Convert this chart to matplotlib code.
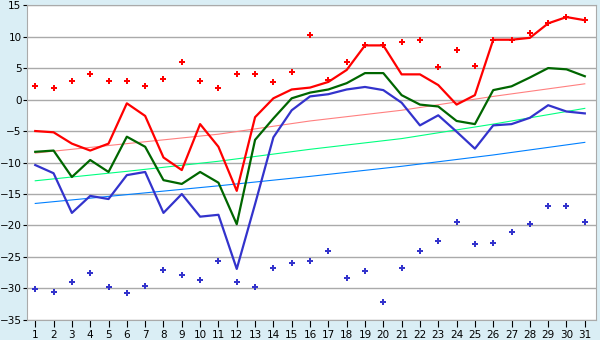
import matplotlib
matplotlib.use("Agg")
import matplotlib.pyplot as plt

days = list(range(1, 32))

t_max = [-5.0, -5.2, -7.0, -8.1, -7.0, -0.6, -2.6, -9.2, -11.2, -3.9, -7.5, -14.5, -2.8, 0.2, 1.6,
         1.9, 2.8, 4.7, 8.6, 8.6, 4.0, 4.0, 2.3, -0.8, 0.7, 9.5, 9.5, 9.8, 12.1, 13.1, 12.6]
t_mean = [-8.3, -8.1, -12.3, -9.6, -11.5, -5.9, -7.5, -12.8, -13.4, -11.5, -13.2, -19.8, -6.4, -3.0, 0.2,
          1.1, 1.6, 2.6, 4.2, 4.2, 0.7, -0.8, -1.1, -3.4, -3.9, 1.5, 2.1, 3.5, 5.0, 4.8, 3.7]
t_min = [-10.4, -11.7, -18.0, -15.3, -15.8, -12.0, -11.5, -18.0, -15.0, -18.6, -18.3, -26.9, -16.6, -6.0, -1.7,
         0.5, 0.85, 1.6, 2.0, 1.5, -0.5, -4.1, -2.5, -5.1, -7.8, -4.1, -3.9, -2.9, -0.9, -1.9, -2.2]

rec_high = [2.1, 1.8, 2.9, 4.0, 2.9, 2.9, 2.1, 3.3, 5.9, 2.9, 1.9, 4.0, 4.0, 2.8, 4.3,
            10.2, 3.1, 5.9, 8.6, 8.6, 9.1, 9.5, 5.2, 7.9, 5.4, 9.5, 9.5, 10.6, 12.1, 13.1, 12.6]
rec_low = [-30.1, -30.6, -29.0, -27.5, -29.8, -30.8, -29.6, -27.0, -27.9, -28.6, -25.7, -29.0, -29.8, -26.7, -26.0,
           -25.7, -24.1, -28.3, -27.3, -32.2, -26.7, -24.1, -22.4, -19.5, -23.0, -22.8, -21.0, -19.8, -16.9, -16.9, -19.5]

# normals, read at a few days
norm_days = [1, 6, 11, 16, 21, 26, 31]
norm_max = [-8.5, -7.0, -5.5, -3.4, -1.7, 0.5, 2.5]
norm_mean = [-12.9, -11.4, -9.8, -7.9, -6.2, -3.9, -1.4]
norm_min = [-16.5, -15.1, -13.7, -12.2, -10.6, -8.8, -6.8]

bg = "#daeef5"
fig = plt.figure(figsize=(6, 3.4), dpi=100, facecolor=bg)
ax = fig.add_axes([0.045, 0.059, 0.948, 0.926])
ax.set_facecolor("white")

ax.plot(norm_days, norm_max, color="#ff8080", lw=0.8, zorder=2)
ax.plot(norm_days, norm_mean, color="#00ff80", lw=0.8, zorder=2)
ax.plot(norm_days, norm_min, color="#0080ff", lw=0.8, zorder=2)

ax.plot(days, t_min, color="#3333cc", lw=1.6, zorder=3)
ax.plot(days, t_mean, color="#006600", lw=1.6, zorder=3)
ax.plot(days, t_max, color="#ff0000", lw=1.6, zorder=4)

ax.plot(days, rec_high, ls="none", marker="P", ms=4, color="#ff0000", mew=0, zorder=5)
ax.plot(days, rec_low, ls="none", marker="P", ms=4, color="#3333cc", mew=0, zorder=5)

ax.set_xlim(0.55, 31.6)
ax.set_ylim(-35, 15)
ax.set_xticks(days)
ax.set_yticks(range(-35, 16, 5))
ax.yaxis.grid(True, color="#aaaaaa", lw=1)
ax.set_axisbelow(True)
for s in ax.spines.values():
    s.set_color("#aaaaaa")
ax.tick_params(axis="x", direction="out", length=5, colors="black", labelsize=7.5, pad=2)
ax.tick_params(axis="y", direction="out", length=3, colors="black", labelsize=7.5, pad=1)

fig.savefig("out.png", dpi=100, facecolor=bg)
